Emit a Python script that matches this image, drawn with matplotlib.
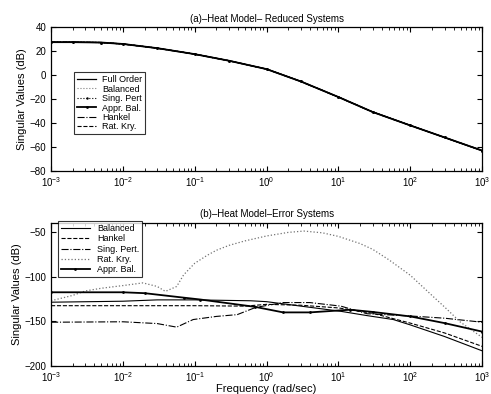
import numpy as np
import matplotlib.pyplot as plt
import matplotlib as mpl

mpl.rcParams['font.family'] = ['Liberation Sans', 'DejaVu Sans']
mpl.rcParams['mathtext.default'] = 'regular'
mpl.rcParams['font.size'] = 7

# (a) full order and reduced models (they lie on top of each other)
w_a = [1e-3, 2e-3, 5e-3, 1e-2, 3e-2, 1e-1, 3e-1, 1, 3, 10, 30, 100, 300, 1000]
full_order = [27.5, 27.5, 27.2, 26.0, 22.5, 17.5, 12.0, 5.0, -5.3, -18.3, -30.8, -42.0, -52.0, -63.0]
balanced_a = full_order
sing_pert_a = full_order
appr_bal_a = full_order
hankel_a = full_order
rat_kry_a = full_order

# (b) error systems
w_bal = [1e-3, 1e-2, 3e-2, 1e-1, 6e-1, 1, 3, 10.8, 25, 58, 100, 300, 1000]
err_balanced = [-128.6, -127.5, -126.0, -126.0, -127.0, -128.0, -133.0, -138.8, -143.6, -148.0, -154.0, -167.0, -183.0]

w_han = [1e-3, 1e-2, 1e-1, 5e-1, 1, 3, 10, 30, 100, 300, 1000]
err_hankel = [-132.5, -132.5, -132.5, -133.0, -131.0, -132.0, -135.0, -141.0, -152.0, -163.0, -178.0]

w_sp = [1e-3, 1e-2, 3e-2, 5.6e-2, 9.5e-2, 2e-1, 3.9e-1, 7e-1, 1.7, 4, 10.8, 25, 100, 300, 1000]
err_sing_pert = [-151.0, -150.5, -152.5, -156.5, -148.0, -144.5, -142.5, -134.5, -129.0, -129.0, -133.0, -141.5, -144.0, -146.5, -151.0]

w_rk = [1e-3, 2e-3, 3e-3, 5e-3, 1e-2, 1.9e-2, 3e-2, 3.9e-2, 5.6e-2, 7e-2, 1e-1, 1.5e-1,
        2e-1, 3e-1, 5e-1, 1, 2, 3.3, 6, 10, 20, 30, 50, 100, 200, 300, 500, 1000]
err_rat_kry = [-127.0, -121.0, -116.0, -113.0, -110.0, -107.0, -111.0, -116.5, -111.0, -98.0, -85.0, -76.0,
               -70.5, -65.0, -60.0, -54.5, -50.5, -49.0, -51.0, -55.0, -63.0, -69.5, -81.0, -98.5, -121.0, -134.0, -151.0, -168.0]

w_ab = [1e-3, 1e-2, 2e-2, 7e-2, 1.2e-1, 6.9e-1, 1.7, 4, 14.6, 30, 100, 300, 1000]
err_appr_bal = [-117.5, -117.5, -118.5, -123.5, -125.6, -133.8, -140.0, -140.0, -137.0, -139.5, -144.5, -152.0, -161.5]

fig = plt.figure(figsize=(4.91, 3.94), dpi=100)
ax1 = fig.add_axes([0.104, 0.566, 0.878, 0.365])
ax2 = fig.add_axes([0.104, 0.071, 0.878, 0.363])

ax1.semilogx(w_a, full_order, 'k-', lw=0.9, label='Full Order')
ax1.semilogx(w_a, balanced_a, ':', color='0.5', lw=0.8, label='Balanced')
ax1.semilogx(w_a, sing_pert_a, 'k:', lw=0.8, marker='.', ms=1.5, label='Sing. Pert')
ax1.semilogx(w_a, appr_bal_a, 'k-', lw=1.3, marker='.', ms=2, label='Appr. Bal.')
ax1.semilogx(w_a, hankel_a, 'k-.', lw=0.8, label='Hankel')
ax1.semilogx(w_a, rat_kry_a, 'k--', lw=0.8, label='Rat. Kry.')
ax1.set_xlim(1e-3, 1e3)
ax1.set_ylim(-80, 40)
ax1.set_yticks(np.arange(-80, 41, 20))
ax1.set_ylabel('Singular Values (dB)', fontsize=8, labelpad=2)
ax1.set_title('(a)\u2013Heat Model\u2013 Reduced Systems', fontsize=7, pad=4)
leg1 = ax1.legend(loc='upper left', bbox_to_anchor=(0.053, 0.685), fontsize=6.5,
                  frameon=True, fancybox=False, edgecolor='k', handlelength=2.2,
                  handletextpad=0.6, labelspacing=0.05, borderpad=0.3,
                  borderaxespad=0)
leg1.get_frame().set_linewidth(0.8)

ax2.semilogx(w_bal, err_balanced, 'k-', lw=0.8, label='Balanced')
ax2.semilogx(w_han, err_hankel, 'k--', lw=0.8, label='Hankel')
ax2.semilogx(w_sp, err_sing_pert, 'k-.', lw=0.8, label='Sing. Pert.')
ax2.semilogx(w_rk, err_rat_kry, ':', color='0.45', lw=0.9, label='Rat. Kry.')
ax2.semilogx(w_ab, err_appr_bal, 'k-', lw=1.3, marker='.', ms=2, label='Appr. Bal.')
ax2.set_xlim(1e-3, 1e3)
ax2.set_ylim(-200, -40)
ax2.set_yticks([-200, -150, -100, -50])
ax2.set_ylabel('Singular Values (dB)', fontsize=8, labelpad=2)
ax2.set_xlabel('Frequency (rad/sec)', fontsize=8, labelpad=0)
ax2.set_title('(b)\u2013Heat Model\u2013Error Systems', fontsize=7, pad=4)
leg2 = ax2.legend(loc='upper left', bbox_to_anchor=(0.016, 1.012), fontsize=6.5,
                  frameon=True, fancybox=False, edgecolor='k', handlelength=3.2,
                  handletextpad=0.8, labelspacing=0.15, borderpad=0.3,
                  borderaxespad=0)
leg2.get_frame().set_linewidth(0.8)

for ax in (ax1, ax2):
    ax.tick_params(which='both', direction='in', top=True, right=True, labelsize=7)
    ax.tick_params(which='major', length=3.5)
    ax.tick_params(which='minor', length=2)
    ax.tick_params(axis='y', which='major', pad=3.5)
    ax.tick_params(axis='x', which='major', pad=3)
    ax.set_xticks([1e-3, 1e-2, 1e-1, 1, 1e1, 1e2, 1e3])
    for s in ax.spines.values():
        s.set_linewidth(0.9)

fig.savefig('out.png', dpi=100)
